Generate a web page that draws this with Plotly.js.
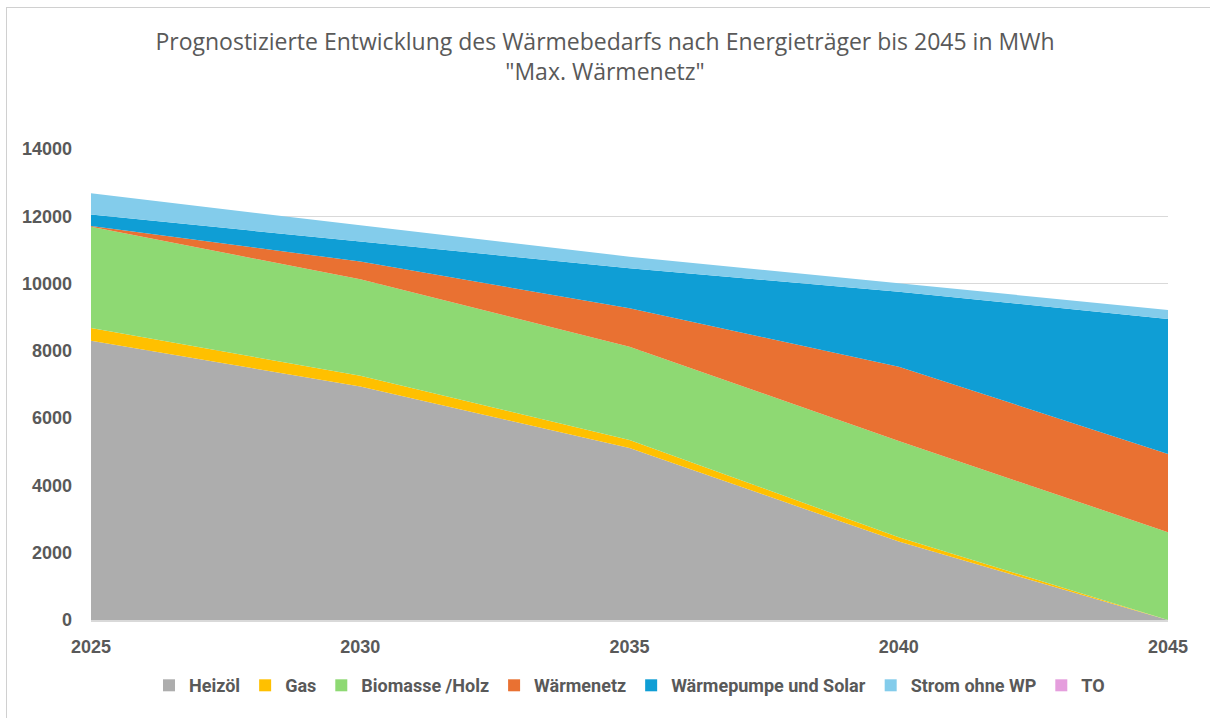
<!DOCTYPE html>
<html><head><meta charset="utf-8">
<script src="https://cdn.plot.ly/plotly-3.0.1.min.js"></script>
<style>
html,body{margin:0;padding:0;background:#fff;}
#wrap{position:relative;width:1210px;height:718px;}
#chart{width:1210px;height:718px;}
#frame{position:absolute;left:6px;top:7px;width:1210px;height:718px;border-left:1px solid #d0d0d0;border-top:1px solid #d0d0d0;pointer-events:none;}
</style></head>
<body><div id="wrap"><div id="chart"></div><div id="frame"></div></div>
<script>
const years = [2025, 2030, 2035, 2040, 2045];
const heizoel = [8300, 6940, 5110, 2330, 0];
const gas = [380, 320, 240, 130, 0];
const biomasse = [3010, 2870, 2775, 2860, 2610];
const waermenetz = [20, 525, 1140, 2210, 2325];
const waermepumpe = [340, 595, 1190, 2230, 4015];
const strom = [635, 480, 345, 250, 265];
const to = [0, 0, 0, 0, 0];

const seriesNames = ["Heizöl", "Gas", "Biomasse /Holz", "Wärmenetz", "Wärmepumpe und Solar", "Strom ohne WP", "TO"];
const seriesData = [heizoel, gas, biomasse, waermenetz, waermepumpe, strom, to];
const colors = ["#ADADAD", "#FFC000", "#8ED973", "#E97132", "#0F9ED5", "#83CCEB", "#E59EDD"];

const areaTraces = seriesNames.map((n, i) => ({
  type: "scatter", x: years, y: seriesData[i], name: n,
  stackgroup: "one", mode: "none", fillcolor: colors[i],
  line: {width: 0}, showlegend: false, legendgroup: n, hoverinfo: "x+y+name"
}));
// legend-only entries with square swatches
const legendTraces = seriesNames.map((n, i) => ({
  type: "bar", x: [years[0]], y: [null], name: n, legendgroup: n,
  marker: {color: colors[i]}, showlegend: true, hoverinfo: "skip"
}));

const layout = {
  width: 1210, height: 718,
  margin: {l: 91, r: 42, t: 149, b: 98},
  paper_bgcolor: "#fff", plot_bgcolor: "#fff",
  font: {family: "Open Sans, Lato, sans-serif", color: "#595959"},
  title: {
    text: "Prognostizierte Entwicklung des Wärmebedarfs nach Energieträger bis 2045 in MWh<br>\"Max. Wärmenetz\"",
    font: {size: 23, color: "#595959", family: "Open Sans, sans-serif"},
    x: 0.5, xanchor: "center", yref: "container", y: 0.93, yanchor: "top"
  },
  xaxis: {
    range: [2025, 2045], tickvals: years, ticktext: years.map(String),
    showgrid: false, zeroline: false, showline: true, linecolor: "#d9d9d9", linewidth: 1.5,
    ticks: "", tickfont: {size: 18, color: "#595959", family: "Liberation Sans, Arial, sans-serif", weight: "bold"},
    ticklabelstandoff: 10, fixedrange: true, automargin: false
  },
  yaxis: {
    range: [0, 14000], tickvals: [0, 2000, 4000, 6000, 8000, 10000, 12000, 14000],
    ticktext: ["0","2000","4000","6000","8000","10000","12000","14000"],
    showgrid: true, gridcolor: "#d9d9d9", gridwidth: 1, zeroline: false, showline: false,
    ticks: "", tickfont: {size: 18, color: "#595959", family: "Liberation Sans, Arial, sans-serif", weight: "bold"},
    ticklabelstandoff: 18, fixedrange: true, automargin: false
  },
  legend: {
    orientation: "h", x: 0.5, xanchor: "center", y: -0.1, yanchor: "top",
    font: {size: 18, color: "#595959", family: "Roboto, Liberation Sans, sans-serif", weight: "bold"},
    traceorder: "normal", itemwidth: 30, tracegroupgap: 0
  },
  showlegend: true
};
Plotly.newPlot("chart", areaTraces.concat(legendTraces), layout, {displayModeBar: false, staticPlot: true});
</script></body></html>
